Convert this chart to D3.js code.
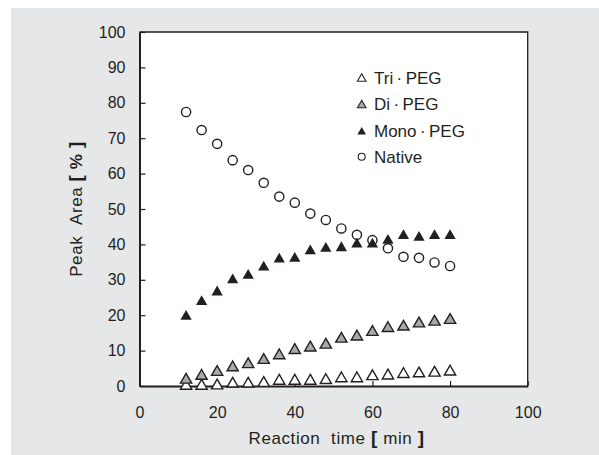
<!DOCTYPE html>
<html>
<head>
<meta charset="utf-8">
<script src="https://d3js.org/d3.v7.min.js"></script>
<style>
body { margin: 0; background: #fff; }
text { font-family: "Liberation Sans", Arial, sans-serif; fill: #231f20; }
</style>
</head>
<body>
<svg id="chart" width="599" height="455"></svg>
<script>
// reaction time (min)
const times = [12, 16, 20, 24, 28, 32, 36, 40, 44, 48, 52, 56, 60, 64, 68, 72, 76, 80];
// peak area (%)
const native = [77.4, 72.3, 68.4, 63.8, 61.0, 57.4, 53.5, 51.8, 48.7, 46.9, 44.5, 42.7, 41.2, 38.9, 36.5, 36.2, 34.9, 33.9];
const monoPeg = [19.9, 24.1, 26.8, 30.2, 31.5, 33.8, 36.1, 36.3, 38.4, 39.1, 39.3, 40.3, 40.3, 41.4, 42.7, 42.2, 42.7, 42.7];
const diPeg = [2.0, 3.1, 4.2, 5.5, 6.4, 7.6, 8.9, 10.4, 11.1, 11.9, 13.6, 14.2, 15.5, 16.6, 17.0, 17.9, 18.4, 18.9];
const triPeg = [0.3, 0.3, 0.4, 0.9, 0.9, 1.1, 1.7, 1.7, 1.7, 1.9, 2.4, 2.4, 3.0, 3.2, 3.6, 3.8, 4.0, 4.3];

const seriesNames = ["Tri\u2009·\u2009PEG", "Di\u2009·\u2009PEG", "Mono\u2009·\u2009PEG", "Native"];
const xTicks = [0, 20, 40, 60, 80, 100];
const yTicks = [0, 10, 20, 30, 40, 50, 60, 70, 80, 90, 100];

const svg = d3.select("#chart");
const pLeft = 139.5, pRight = 527.7, pTop = 32, pBottom = 386;

svg.append("rect").attr("x", 11).attr("y", 8).attr("width", 588).attr("height", 447).attr("fill", "#e6e7e8");
svg.append("rect").attr("x", pLeft).attr("y", pTop).attr("width", pRight - pLeft).attr("height", pBottom - pTop).attr("fill", "#fff");

const x = d3.scaleLinear().domain([0, 100]).range([pLeft, pRight]);
const y = d3.scaleLinear().domain([0, 100]).range([pBottom, pTop]);

// frame (top and right)
svg.append("path")
   .attr("d", "M" + x(0) + "," + y(100) + "H" + x(100) + "V" + y(0))
   .attr("fill", "none").attr("stroke", "#231f20").attr("stroke-width", 1.3);

const yAxis = svg.append("g").attr("transform", "translate(" + pLeft + ",0)")
   .call(d3.axisLeft(y).tickValues(yTicks).tickSizeInner(-6).tickSizeOuter(0).tickPadding(14));
const xAxis = svg.append("g").attr("transform", "translate(0," + pBottom + ")")
   .call(d3.axisBottom(x).tickValues(xTicks).tickSizeInner(-5).tickSizeOuter(0).tickPadding(21));

[xAxis, yAxis].forEach(a => {
  a.select(".domain").attr("stroke", "#231f20").attr("stroke-width", 2);
  a.selectAll(".tick line").attr("stroke", "#231f20").attr("stroke-width", 1.2);
  a.selectAll(".tick text").attr("font-size", 16).attr("font-family", "Liberation Sans, Arial, sans-serif").attr("fill", "#231f20");
});

// axis titles
const xt = svg.append("text").attr("x", x(50) + 3).attr("y", 444).attr("text-anchor", "middle")
   .attr("font-size", 17).attr("letter-spacing", 0.6);
xt.append("tspan").text("Reaction\u00a0\u00a0time ");
xt.append("tspan").attr("font-weight", "bold").attr("font-size", 19).text("[");
xt.append("tspan").text(" min ");
xt.append("tspan").attr("font-weight", "bold").attr("font-size", 19).text("]");

const yt = svg.append("text").attr("transform", "translate(82,209) rotate(-90)").attr("text-anchor", "middle")
   .attr("font-size", 17).attr("letter-spacing", 0.6);
yt.append("tspan").text("Peak\u00a0\u00a0Area ");
yt.append("tspan").attr("font-weight", "bold").attr("font-size", 19).text("[");
yt.append("tspan").attr("font-weight", "bold").text(" % ");
yt.append("tspan").attr("font-weight", "bold").attr("font-size", 19).text("]");

const tri = d3.symbol().type(d3.symbolTriangle).size(55);
const triSmall = d3.symbol().type(d3.symbolTriangle).size(32);

function points(vals, shape, fill, stroke) {
  svg.append("g").selectAll("path").data(vals).join("path")
     .attr("d", shape)
     .attr("transform", (d, i) => "translate(" + x(times[i]) + "," + (y(d) + 1) + ")")
     .attr("fill", fill).attr("stroke", stroke).attr("stroke-width", 1.4);
}
points(triPeg, tri, "#fff", "#231f20");
points(diPeg, tri, "#a7a9ac", "#231f20");
points(monoPeg, tri, "#231f20", "none");
svg.append("g").selectAll("circle").data(native).join("circle")
   .attr("cx", (d, i) => x(times[i])).attr("cy", d => y(d)).attr("r", 4.6)
   .attr("fill", "none").attr("stroke", "#231f20").attr("stroke-width", 1.4);

// legend
const legendY = [77.7, 104.3, 131, 156.7];
const legend = svg.append("g");
seriesNames.forEach((name, i) => {
  const yy = legendY[i];
  if (i < 3) {
    legend.append("path").attr("d", triSmall).attr("transform", "translate(361.7," + (yy + 1) + ")")
      .attr("fill", ["#fff", "#a7a9ac", "#231f20"][i]).attr("stroke", i < 2 ? "#231f20" : "none").attr("stroke-width", 1.1);
  } else {
    legend.append("circle").attr("cx", 361.7).attr("cy", yy).attr("r", 3.5)
      .attr("fill", "none").attr("stroke", "#231f20").attr("stroke-width", 1.1);
  }
  legend.append("text").attr("x", 374).attr("y", yy).attr("dy", "0.36em").attr("font-size", 17).text(name);
});
</script>
</body>
</html>
